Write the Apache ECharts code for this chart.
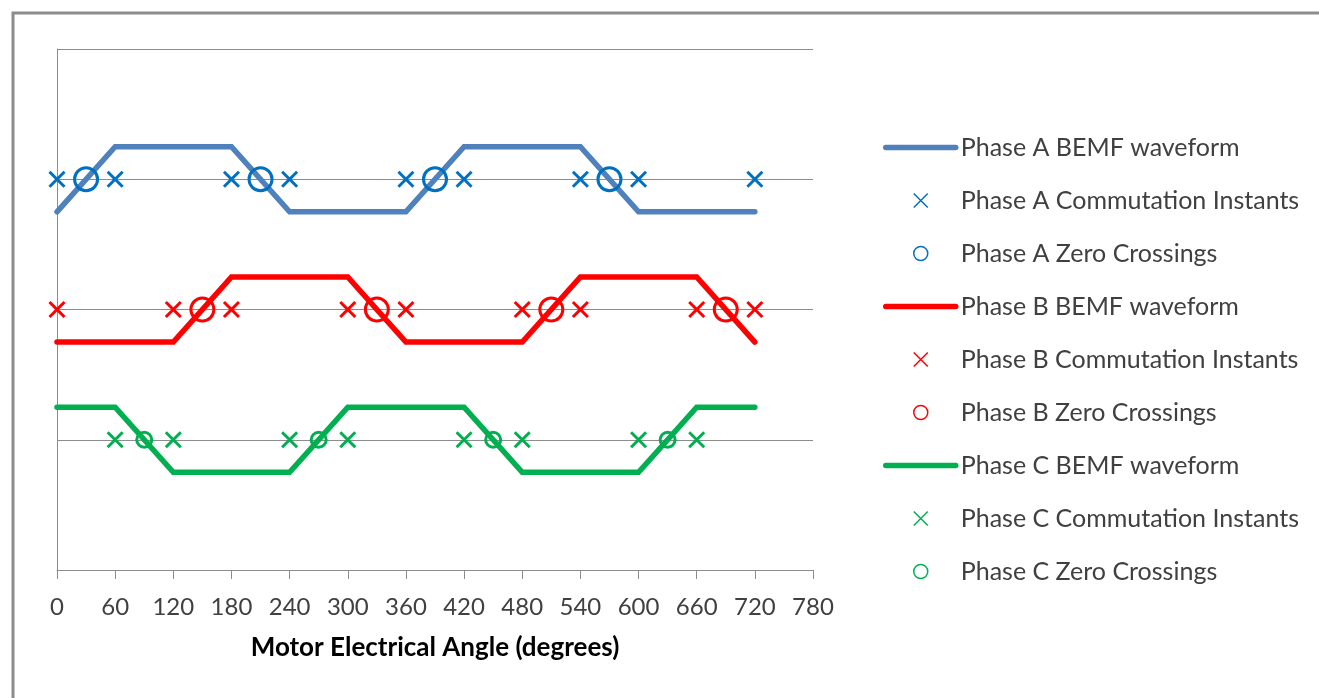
<!DOCTYPE html>
<html>
<head>
<meta charset="utf-8">
<script src="https://cdn.jsdelivr.net/npm/echarts@6/dist/echarts.min.js"></script>
<style>
html,body{margin:0;padding:0;background:#fff;}
#chart{width:1319px;height:698px;}
</style>
</head>
<body>
<div id="chart"></div>
<script>
// ---- data ----
const waveA_x = [0, 60, 180, 240, 360, 420, 540, 600, 720];
const waveA_y = [2.75, 3.25, 3.25, 2.75, 2.75, 3.25, 3.25, 2.75, 2.75];
const commA_x = [0, 60, 180, 240, 360, 420, 540, 600, 720];
const commA_y = 3;
const zeroA_x = [30, 210, 390, 570];

const waveB_x = [0, 120, 180, 300, 360, 480, 540, 660, 720];
const waveB_y = [1.75, 1.75, 2.25, 2.25, 1.75, 1.75, 2.25, 2.25, 1.75];
const commB_x = [0, 120, 180, 300, 360, 480, 540, 660, 720];
const commB_y = 2;
const zeroB_x = [150, 330, 510, 690];

const waveC_x = [0, 60, 120, 240, 300, 420, 480, 600, 660, 720];
const waveC_y = [1.25, 1.25, 0.75, 0.75, 1.25, 1.25, 0.75, 0.75, 1.25, 1.25];
const commC_x = [60, 120, 240, 300, 420, 480, 600, 660];
const commC_y = 1;
const zeroC_x = [90, 270, 450, 630];

const seriesNames = [
  'Phase A BEMF waveform', 'Phase A Commutation Instants', 'Phase A Zero Crossings',
  'Phase B BEMF waveform', 'Phase B Commutation Instants', 'Phase B Zero Crossings',
  'Phase C BEMF waveform', 'Phase C Commutation Instants', 'Phase C Zero Crossings'
];
const xAxisTitle = 'Motor Electrical Angle (degrees)';

// ---- build ----
const FONT = 'Lato, "Open Sans", sans-serif';
const TEXT = '#404040';
const GRID = '#8c8c8c';
const CROSS = 'path://M0,0L10,10M0,10L10,0';

function pairs(xs, ys) { return xs.map((x, i) => [x, Array.isArray(ys) ? ys[i] : ys]); }

function wave(name, xs, ys, color) {
  return {
    name, type: 'line', data: pairs(xs, ys), symbol: 'none', showSymbol: false,
    lineStyle: { color, width: 5.5, cap: 'round', join: 'miter' },
    itemStyle: { color }, silent: true, animation: false, z: 2
  };
}
function cross(name, xs, y, color) {
  return {
    name, type: 'scatter', data: pairs(xs, y), symbol: CROSS, symbolSize: 15,
    symbolKeepAspect: true,
    itemStyle: { color: 'transparent', borderColor: color, borderWidth: 3, opacity: 1 },
    silent: true, animation: false, z: 3
  };
}
function ring(name, xs, y, color, size) {
  return {
    name, type: 'scatter', data: pairs(xs, y), symbol: 'circle', symbolSize: size,
    itemStyle: { color: 'transparent', borderColor: color, borderWidth: 3, opacity: 1 },
    silent: true, animation: false, z: 3
  };
}

const colA = '#4f81bd', mA = '#0070c0';
const colB = '#ff0000', mB = '#ff0000';
const colC = '#00b050', mC = '#00b050';

const series = [
  wave(seriesNames[0], waveA_x, waveA_y, colA),
  cross(seriesNames[1], commA_x, commA_y, mA),
  ring(seriesNames[2], zeroA_x, commA_y, mA, 23),
  wave(seriesNames[3], waveB_x, waveB_y, colB),
  cross(seriesNames[4], commB_x, commB_y, mB),
  ring(seriesNames[5], zeroB_x, commB_y, mB, 23),
  wave(seriesNames[6], waveC_x, waveC_y, colC),
  cross(seriesNames[7], commC_x, commC_y, mC),
  ring(seriesNames[8], zeroC_x, commC_y, mC, 15)
];

const legendData = seriesNames.map((n, i) => {
  if (i % 3 === 0) return { name: n, itemStyle: { opacity: 0 }, lineStyle: { width: 5.5, cap: 'round' } };
  return { name: n, itemStyle: { borderWidth: 1.5 } };
});

const chart = echarts.init(document.getElementById('chart'), null, { renderer: 'canvas' });
chart.setOption({
  animation: false,
  backgroundColor: '#fff',
  textStyle: { fontFamily: FONT },
  graphic: [{
    type: 'rect', silent: true, z: -1,
    shape: { x: 13, y: 13, width: 3000, height: 3000 },
    style: { fill: 'none', stroke: '#8c8c8c', lineWidth: 3 }
  }],
  grid: { left: 57, top: 49, width: 756, height: 521, containLabel: false },
  xAxis: {
    type: 'value', min: 0, max: 780, interval: 60,
    axisLine: { show: true, onZero: false, lineStyle: { color: GRID, width: 1 } },
    axisTick: { show: true, length: 9, lineStyle: { color: GRID } },
    axisLabel: { color: TEXT, fontSize: 24, fontFamily: FONT, margin: 25 },
    splitLine: { show: false },
    name: xAxisTitle, nameLocation: 'middle', nameGap: 65,
    nameTextStyle: { color: '#000', fontSize: 26, fontWeight: 'bold', fontFamily: FONT }
  },
  yAxis: {
    type: 'value', min: 0, max: 4, interval: 1,
    axisLine: { show: true, lineStyle: { color: GRID, width: 1 } },
    axisTick: { show: false },
    axisLabel: { show: false },
    splitLine: { show: true, lineStyle: { color: GRID, width: 1 } }
  },
  legend: {
    orient: 'vertical', left: 883, top: 135, padding: 0,
    itemWidth: 70, itemHeight: 14, itemGap: 28,
    symbolKeepAspect: true,
    selectedMode: false,
    data: legendData,
    textStyle: { color: TEXT, fontSize: 25, fontFamily: FONT, lineHeight: 24 }
  },
  series
});
</script>
</body>
</html>
